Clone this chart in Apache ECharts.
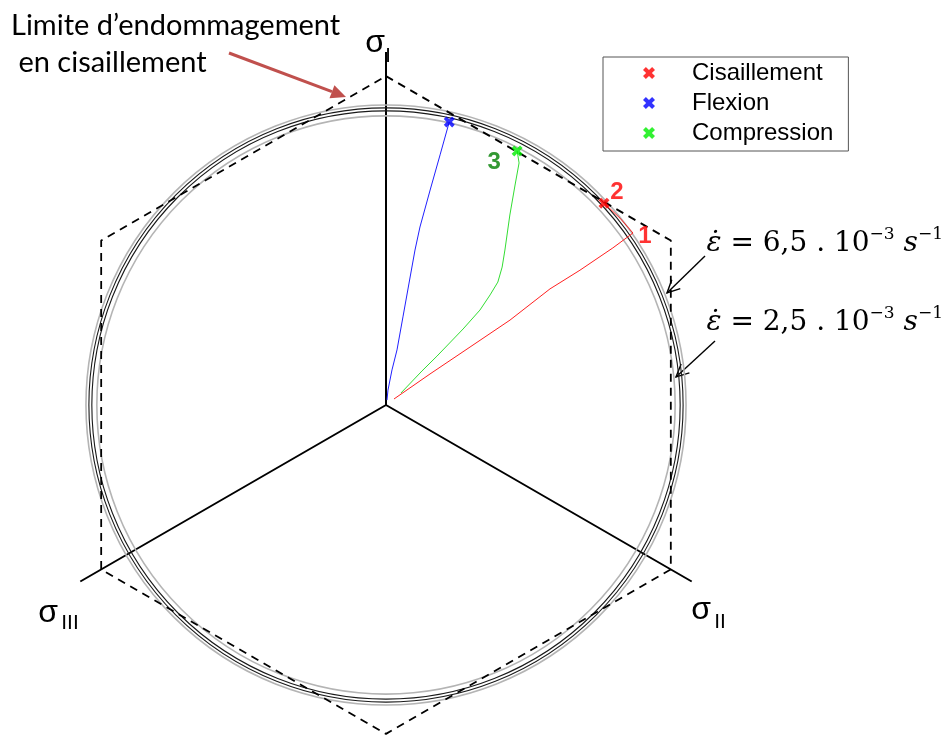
<!DOCTYPE html>
<html>
<head>
<meta charset="utf-8">
<script src="https://cdn.jsdelivr.net/npm/echarts@6/dist/echarts.min.js"></script>
<style>
  html, body { margin: 0; padding: 0; background: #fff; }
  #chart { width: 946px; height: 735px; }
</style>
</head>
<body>
<div id="chart"></div>
<script>
// Deviatoric (π) plane. Radius: stress deviator norm, in units of the shear damage limit.
// Angle: degrees measured clockwise from the σI axis.

// Tresca hexagon (dashed): vertex angles and circumradius
const hexAngles = [0, 60, 120, 180, 240, 300, 360];
const trescaRadius = 1.118;

// Damage limit circles for the two strain rates, with their scatter band
const limitRadii = [1.0, 1.01];
const bandRadii = [0.983, 1.02];

// Loading paths up to failure
const shearR = [0.034, 0.183, 0.347, 0.511, 0.683, 0.803, 0.938, 1.023, 1.018, 1.010];
const shearTheta = [53.1, 54.8, 55.4, 55.6, 54.7, 55.2, 55.3, 55.15, 51.4, 47.2];

const bendR = [0.017, 0.051, 0.121, 0.191, 0.305, 0.422, 0.536, 0.616, 0.746, 0.870, 0.986];
const bendTheta = [11.3, 7.6, 9.7, 11.3, 10.9, 10.7, 10.6, 10.8, 11.6, 12.2, 12.6];

const compR = [0.065, 0.168, 0.240, 0.368, 0.454, 0.515, 0.565, 0.613, 0.664, 0.771, 0.867, 0.939, 0.972];
const compTheta = [51.3, 46.6, 46.2, 45.4, 44.7, 43.4, 42.3, 40.1, 37.5, 33.1, 30.4, 28.8, 27.3];

// Numbered points: "1" = peak of the shear path, "2" = shear failure, "3" = compression failure
const shearPeakIndex = 7;

const seriesNames = ['Cisaillement', 'Flexion', 'Compression'];
const seriesColors = ['#ff0000', '#0000ff', '#00ee00'];
const pathColors = ['#ff2020', '#2020ff', '#33dd33'];

const crossIcon = 'path://M0,2.4L2.4,0L5,2.6L7.6,0L10,2.4L7.4,5L10,7.6L7.6,10L5,7.4L2.4,10L0,7.6L2.6,5Z';

const pairs = (rs, ts) => rs.map((r, i) => [r, ts[i]]);
const lastOf = (rs, ts) => [rs[rs.length - 1], ts[ts.length - 1]];

const paths = [pairs(shearR, shearTheta), pairs(bendR, bendTheta), pairs(compR, compTheta)];
const failures = [lastOf(shearR, shearTheta), lastOf(bendR, bendTheta), lastOf(compR, compTheta)];

function circleRenderer(color, width) {
  return function (params, api) {
    const c = api.coord([0, 0]);
    const p = api.coord([api.value(0), 0]);
    const r = Math.hypot(p[0] - c[0], p[1] - c[1]);
    return {
      type: 'circle',
      shape: { cx: c[0], cy: c[1], r: r },
      style: { fill: null, stroke: color, lineWidth: width }
    };
  };
}

const series = [];

// failure markers first so the legend takes their cross icon
seriesNames.forEach((name, i) => {
  series.push({
    name: name,
    type: 'scatter',
    coordinateSystem: 'polar',
    symbol: crossIcon,
    symbolSize: 11,
    itemStyle: { color: seriesColors[i] },
    z: 6,
    data: [failures[i]]
  });
});

series.push({
  type: 'custom',
  coordinateSystem: 'polar',
  silent: true,
  z: 2,
  renderItem: circleRenderer('#b4b4b4', 1.6),
  data: bandRadii.map(r => [r, 0])
});
series.push({
  type: 'custom',
  coordinateSystem: 'polar',
  silent: true,
  z: 2,
  renderItem: circleRenderer('#1a1a1a', 1.1),
  data: limitRadii.map(r => [r, 0])
});
series.push({
  type: 'line',
  coordinateSystem: 'polar',
  silent: true,
  showSymbol: false,
  z: 3,
  lineStyle: { color: '#000', width: 1.8, type: [8, 6] },
  data: hexAngles.map(a => [trescaRadius, a])
});

seriesNames.forEach((name, i) => {
  series.push({
    name: name,
    type: 'line',
    coordinateSystem: 'polar',
    showSymbol: false,
    silent: true,
    z: 4,
    lineStyle: { color: pathColors[i], width: 1 },
    data: paths[i]
  });
});

// numbered tags
const tagStyle = { show: true, position: 'inside', fontFamily: 'Liberation Sans', fontWeight: 'bold', fontSize: 24 };
series.push({
  type: 'scatter',
  coordinateSystem: 'polar',
  symbol: 'circle',
  symbolSize: 2,
  silent: true,
  z: 7,
  itemStyle: { color: 'rgba(0,0,0,0)' },
  data: [
    { value: paths[0][shearPeakIndex], label: Object.assign({}, tagStyle, { formatter: '1', color: '#ff0000', offset: [12, 3] }) },
    { value: failures[0], label: Object.assign({}, tagStyle, { formatter: '2', color: '#ff0000', offset: [13, -11] }) },
    { value: failures[2], label: Object.assign({}, tagStyle, { formatter: '3', color: '#008000', offset: [-23, 11] }) }
  ]
});

// annotation arrows
function openArrow(x1, y1, x2, y2, color, width, len, spread) {
  const a = Math.atan2(y2 - y1, x2 - x1);
  const h1 = [x2 - len * Math.cos(a - spread), y2 - len * Math.sin(a - spread)];
  const h2 = [x2 - len * Math.cos(a + spread), y2 - len * Math.sin(a + spread)];
  return [
    { type: 'line', shape: { x1: x1, y1: y1, x2: x2, y2: y2 }, style: { stroke: color, lineWidth: width } },
    { type: 'polyline', shape: { points: [h1, [x2, y2], h2] }, style: { stroke: color, lineWidth: width, fill: null } }
  ];
}
function solidArrow(x1, y1, x2, y2, color, width, len, half) {
  const a = Math.atan2(y2 - y1, x2 - x1);
  const bx = x2 - len * Math.cos(a), by = y2 - len * Math.sin(a);
  const px = -Math.sin(a) * half, py = Math.cos(a) * half;
  return [
    { type: 'line', shape: { x1: x1, y1: y1, x2: bx, y2: by }, style: { stroke: color, lineWidth: width } },
    { type: 'polygon', shape: { points: [[x2, y2], [bx + px, by + py], [bx - px, by - py]] }, style: { fill: color } }
  ];
}

function txt(text, x, y, font, align, extra) {
  return {
    type: 'text',
    z: 10,
    style: Object.assign({
      text: text, x: x, y: y, font: font, fill: '#000',
      align: align, textAlign: align, verticalAlign: 'middle', textVerticalAlign: 'middle'
    }, extra || {})
  };
}

const rateRich = {
  e: { fontFamily: 'DejaVu Serif', fontStyle: 'italic', fontSize: 28, lineHeight: 36, color: '#000' },
  t: { fontFamily: 'DejaVu Serif', fontSize: 28, lineHeight: 36, color: '#000' },
  p: { fontFamily: 'DejaVu Serif', fontSize: 17, lineHeight: 22, verticalAlign: 'top', color: '#000' }
};
const rateText = v => '{e|ε̇}{t| = ' + v + ' . 10}{p|−3}{t| }{e|s}{p|−1}';

const graphics = [
  txt('Limite d’endommagement', 11, 26, '29px Lato', 'left'),
  txt(' en cisaillement', 11, 63, '29px Lato', 'left'),
  txt('σ', 375, 43, '32px "Liberation Sans"', 'center'),
  txt('I', 388, 56, '20px "Liberation Sans"', 'center'),
  txt('σ', 701, 610, '32px "Liberation Sans"', 'center'),
  txt('II', 720, 622, '21px "Liberation Sans"', 'center'),
  txt('σ', 48, 613, '32px "Liberation Sans"', 'center'),
  txt('III', 70, 623, '21px "Liberation Sans"', 'center'),
  txt(rateText('6,5'), 943, 244, '28px "DejaVu Serif"', 'right', { rich: rateRich }),
  txt(rateText('2,5'), 943, 323, '28px "DejaVu Serif"', 'right', { rich: rateRich })
]
  .concat(solidArrow(229, 53, 346, 97, '#c0504d', 3, 15, 7))
  .concat(openArrow(705, 256, 667, 293, '#000', 1.4, 14, 0.45))
  .concat(openArrow(715, 341, 676, 377, '#000', 1.4, 14, 0.45));

const chart = echarts.init(document.getElementById('chart'), null, { renderer: 'canvas' });
chart.setOption({
  animation: false,
  backgroundColor: '#fff',
  polar: { center: [386, 405], radius: 353 },
  angleAxis: {
    type: 'value', min: 0, max: 360, interval: 120,
    startAngle: 90, clockwise: true,
    axisLine: { show: false }, axisTick: { show: false }, axisLabel: { show: false },
    splitArea: { show: false },
    splitLine: { show: true, lineStyle: { color: '#000', width: 2 } }
  },
  radiusAxis: { type: 'value', min: 0, max: 1.2, show: false },
  legend: {
    orient: 'vertical',
    left: 603, top: 57,
    padding: [4, 15, 6, 40],
    itemWidth: 12, itemHeight: 12, itemGap: 6,
    borderColor: '#555', borderWidth: 1, backgroundColor: '#fff',
    selectedMode: false,
    textStyle: { fontFamily: 'Liberation Sans', fontSize: 24, lineHeight: 24, color: '#000', padding: [0, 0, 0, 32] },
    data: seriesNames.map(n => ({ name: n, icon: crossIcon }))
  },
  graphic: graphics,
  series: series
});
</script>
</body>
</html>
